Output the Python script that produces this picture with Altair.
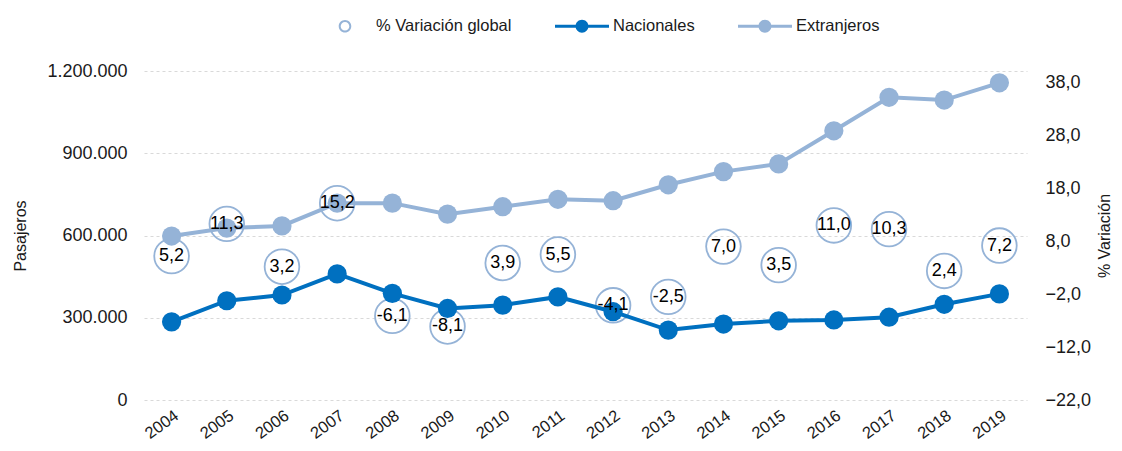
import altair as alt
import pandas as pd

years = ["2004", "2005", "2006", "2007", "2008", "2009", "2010", "2011",
         "2012", "2013", "2014", "2015", "2016", "2017", "2018", "2019"]
nacionales = [285000, 362000, 383000, 460000, 389000, 334000, 346000, 376000,
              322000, 255000, 277000, 289000, 292000, 302000, 349000, 387000]
extranjeros = [598000, 627000, 635000, 718000, 718000, 678000, 705000, 732000,
               727000, 785000, 833000, 861000, 982000, 1104000, 1094000, 1157000]
variacion = [5.2, 11.3, 3.2, 15.2, -6.1, -8.1, 3.9, 5.5,
             -4.1, -2.5, 7.0, 3.5, 11.0, 10.3, 2.4, 7.2]

series_names = ["% Variación global", "Nacionales", "Extranjeros"]
series_colors = ["#95B3D7", "#0070C0", "#95B3D7"]

FONT = "Liberation Sans"

pas = pd.DataFrame({
    "year": years * 2,
    "serie": ["Nacionales"] * len(years) + ["Extranjeros"] * len(years),
    "value": nacionales + extranjeros,
})
var = pd.DataFrame({
    "year": years,
    "var": variacion,
    "label": [f"{v:.1f}".replace(".", ",") for v in variacion],
})
leg = pd.DataFrame({"serie": series_names})

x = alt.X("year:O", title=None,
          scale=alt.Scale(padding=0.5),
          axis=alt.Axis(labelAngle=-36, labelFontSize=16.5, labelFont=FONT,
                        labelColor="#1a1a1a", ticks=False, domain=False,
                        grid=False, labelPadding=7))

left_scale = alt.Scale(domain=[0, 1200000], nice=False, zero=True)
right_scale = alt.Scale(domain=[-22, 40.2], nice=False, zero=False)

left_axis = alt.Axis(
    orient="left", title="Pasajeros", values=[0, 300000, 600000, 900000, 1200000],
    labelExpr="replace(replace(format(datum.value, ','), ',', '.'), ',', '.')",
    grid=True, gridColor="#D9D9D9", gridDash=[3, 3], gridWidth=1,
    ticks=False, domain=False, labelFont=FONT, labelFontSize=18,
    labelColor="#1a1a1a", labelPadding=17, titleFont=FONT, titleFontSize=16,
    titleFontWeight="normal", titleColor="#1a1a1a", titlePadding=18)

right_axis = alt.Axis(
    orient="right", title="% Variación", values=[-22, -12, -2, 8, 18, 28, 38],
    labelExpr="replace(format(datum.value, '.1f'), '.', ',')",
    grid=False, ticks=False, domain=False, labelFont=FONT, labelFontSize=18,
    labelColor="#1a1a1a", labelPadding=18, titleFont=FONT, titleFontSize=16,
    titleFontWeight="normal", titleColor="#1a1a1a", titlePadding=22,
    titleAngle=270)

circles = alt.Chart(var).mark_point(
    filled=False, size=1200, color="#95B3D7", strokeWidth=1.8, opacity=1
).encode(
    x=x,
    y=alt.Y("var:Q", scale=right_scale, axis=right_axis),
)

line_scale = alt.Scale(domain=["Nacionales", "Extranjeros"],
                       range=["#0070C0", "#95B3D7"])

lines = alt.Chart(pas).mark_line(strokeWidth=4).encode(
    x=x,
    y=alt.Y("value:Q", scale=left_scale, axis=left_axis),
    stroke=alt.Stroke("serie:N", scale=line_scale, legend=None),
)

points = alt.Chart(pas).mark_circle(size=370, opacity=1).encode(
    x=x,
    y=alt.Y("value:Q", scale=left_scale, axis=None),
    fill=alt.Fill("serie:N", scale=line_scale, legend=None),
)

labels = alt.Chart(var).mark_text(
    font=FONT, fontSize=18, color="#000000", baseline="middle", align="center"
).encode(
    x=x,
    y=alt.Y("var:Q", scale=right_scale, axis=None),
    text="label:N",
)

ring = ("M0.233,0A0.233,0.233,0,1,1,-0.233,0A0.233,0.233,0,1,1,0.233,0Z"
        "M0.16,0A0.16,0.16,0,1,0,-0.16,0A0.16,0.16,0,1,0,0.16,0Z")
linedot = ("M-1,-0.056L1,-0.056L1,0.056L-1,0.056Z"
           "M0.24,0A0.24,0.24,0,1,1,-0.24,0A0.24,0.24,0,1,1,0.24,0Z")

legend = alt.Legend(
    orient="none", legendX=174, legendY=-72, direction="horizontal",
    title=None, symbolSize=2916, symbolStrokeWidth=0, labelFont=FONT,
    labelFontSize=16.5, labelColor="#1a1a1a", labelOffset=4,
    columnPadding=43, padding=0, symbolOpacity=1)

legend_layer = alt.Chart(leg).transform_filter("false").mark_point(
    filled=True, opacity=1, strokeWidth=0
).encode(
    color=alt.Color("serie:N", scale=alt.Scale(domain=series_names, range=series_colors),
                    legend=legend, sort=series_names),
    shape=alt.Shape("serie:N", scale=alt.Scale(domain=series_names,
                                                range=[ring, linedot, linedot]),
                    legend=legend, sort=series_names),
)

chart = alt.layer(circles, lines, points, labels, legend_layer).resolve_scale(
    y="independent"
).properties(
    width=883, height=329,
    padding={"left": 136, "top": 63, "right": 87, "bottom": 43},
    autosize=alt.AutoSizeParams(type="none"),
).configure(background="white").configure_view(stroke="transparent", strokeWidth=0)

chart.save("out.html", embed_options={"renderer": "svg", "actions": False})
